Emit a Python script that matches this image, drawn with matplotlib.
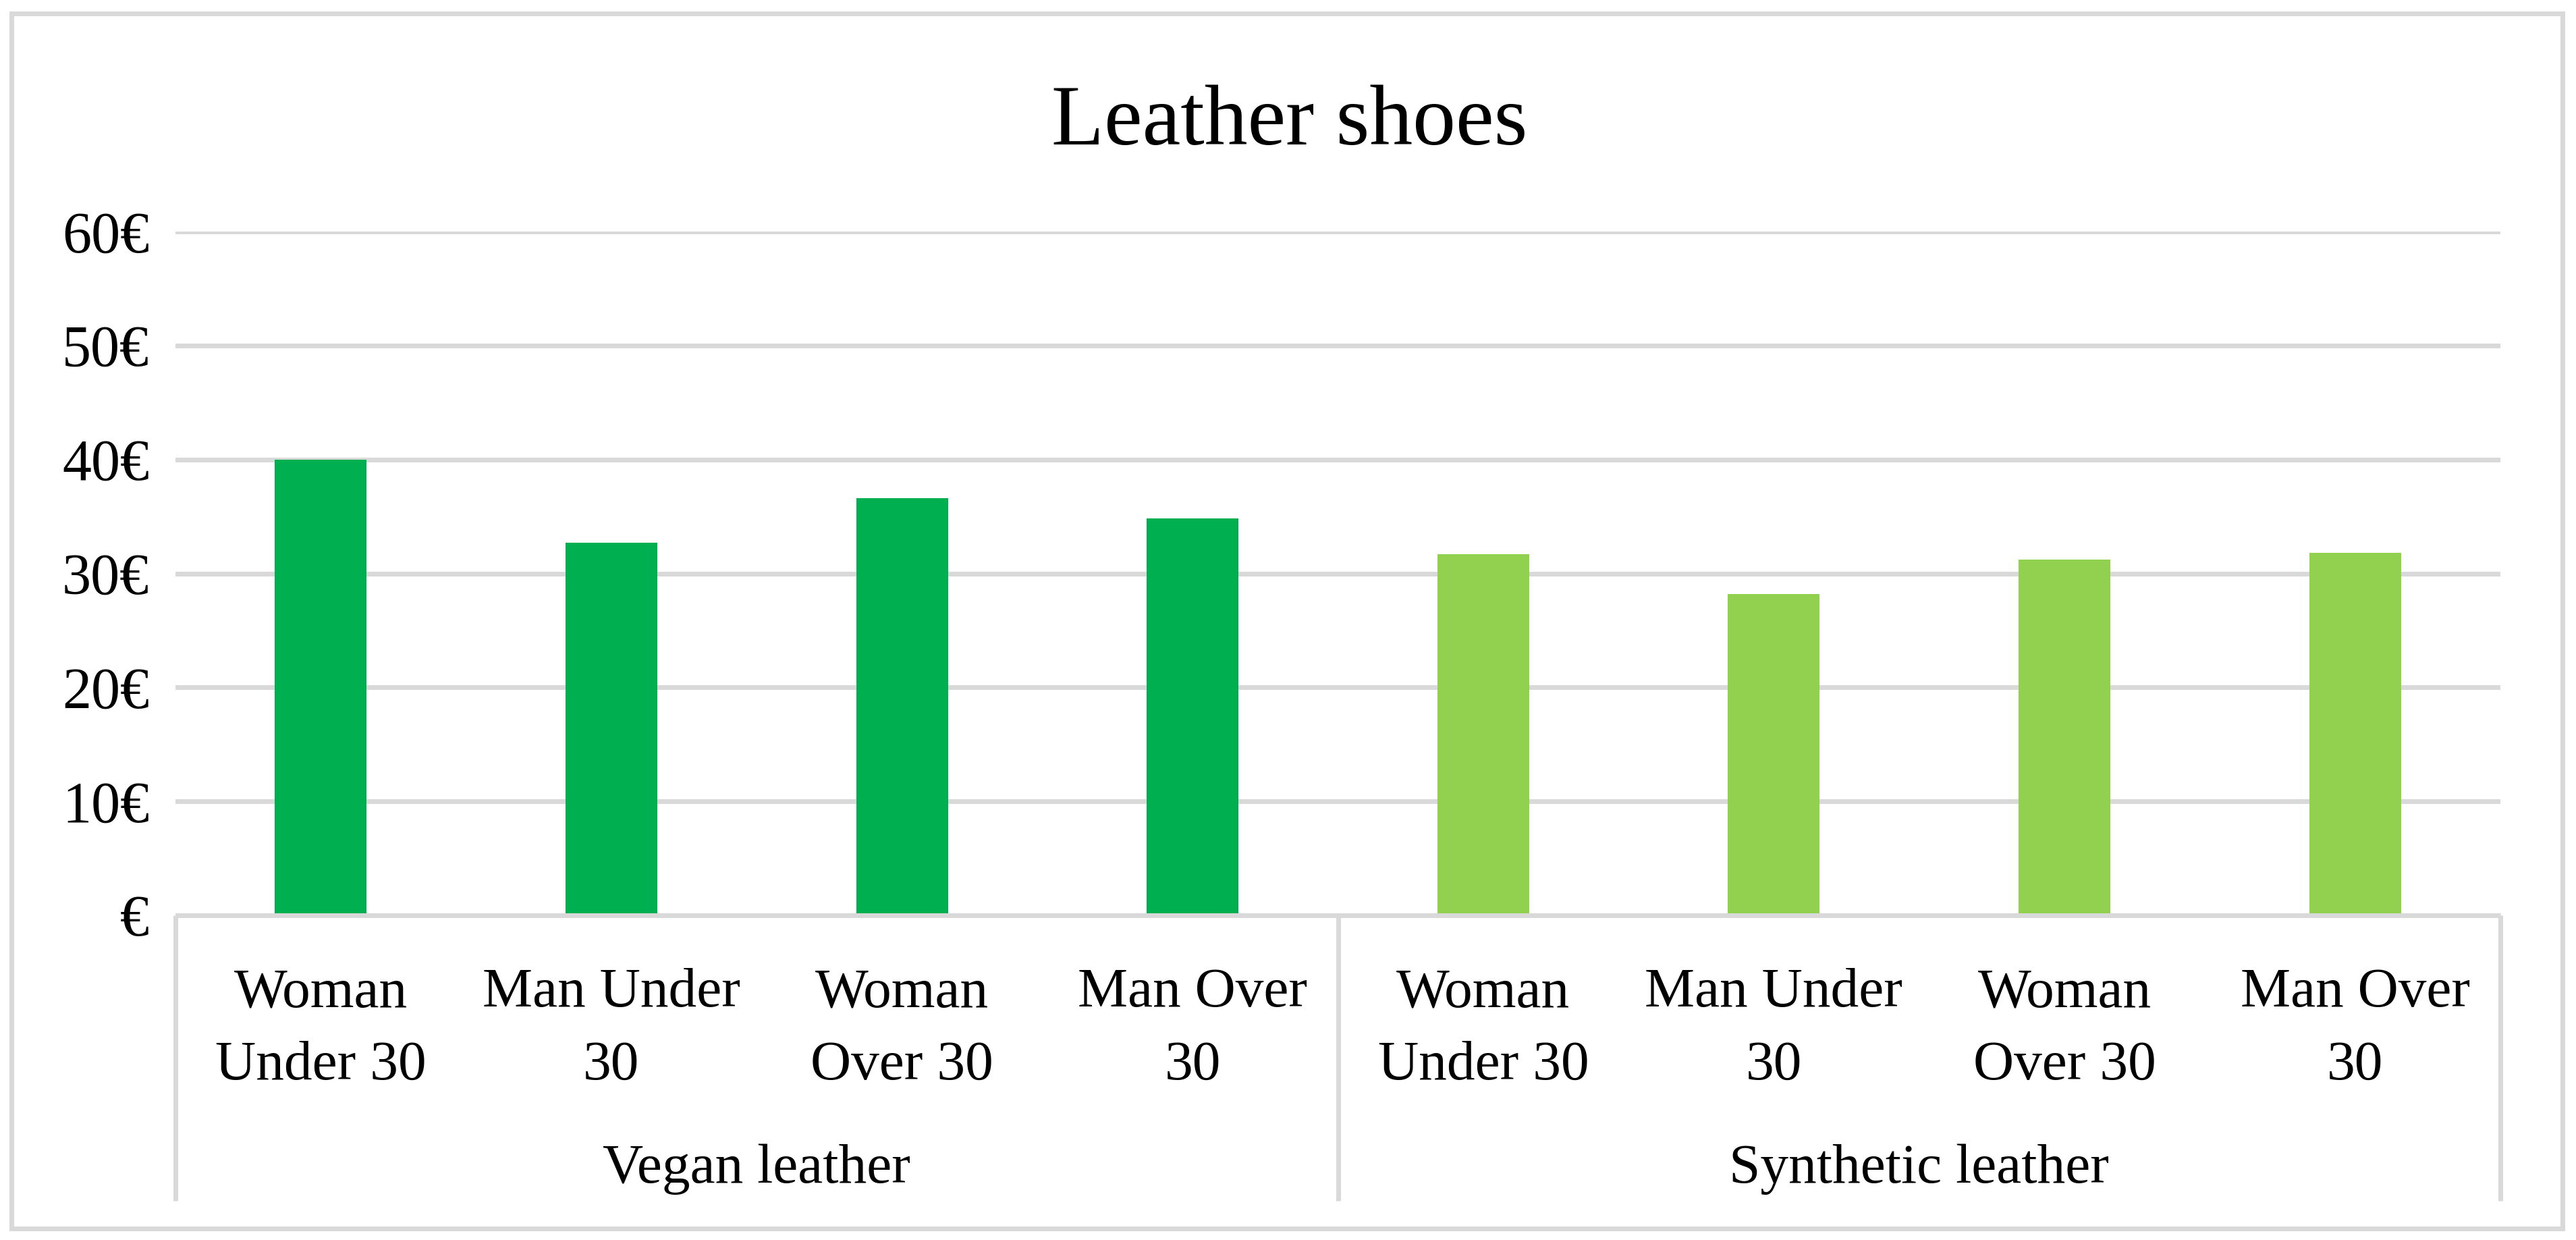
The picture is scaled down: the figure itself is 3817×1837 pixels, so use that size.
import matplotlib
matplotlib.use('agg')
import matplotlib.pyplot as plt
from matplotlib.patches import Rectangle
from matplotlib.ticker import FuncFormatter

# values (EUR)
groups = ['Vegan leather', 'Synthetic leather']
categories = ['Woman\nUnder 30', 'Man Under\n30', 'Woman\nOver 30', 'Man Over\n30']
vegan = [40.0, 32.7, 36.6, 34.8]
synthetic = [31.7, 28.2, 31.2, 31.8]
colors = ['#00B050', '#92D050']

plt.rcParams['font.family'] = ['Liberation Serif', 'DejaVu Serif']

W, H, DPI = 3817, 1837, 200
fig = plt.figure(figsize=(W / DPI, H / DPI), dpi=DPI)
lw = 7 * 72 / DPI  # 7 px lines
grey = '#D9D9D9'

ax = fig.add_axes([260 / W, 1 - 1356 / H, (3705 - 260) / W, (1356 - 343) / H])

n = len(categories)
xs = list(range(2 * n))
ax.bar(xs[:n], vegan, width=0.316, color=colors[0], zorder=3)
ax.bar(xs[n:], synthetic, width=0.316, color=colors[1], zorder=3)

ax.set_xlim(-0.5, 2 * n - 0.5)
ax.set_ylim(0, 60)
ax.set_yticks(range(0, 61, 10))
ax.yaxis.set_major_formatter(FuncFormatter(lambda v, p: '€' if v == 0 else '%d€' % v))
ax.set_xticks(xs)
ax.set_xticklabels(categories * 2, linespacing=1.55)
ax.tick_params(axis='x', length=0, pad=28, labelsize=30)
ax.tick_params(axis='y', length=0, pad=14, labelsize=31)
ax.grid(axis='y', color=grey, lw=lw, zorder=0)
for s in ax.spines.values():
    s.set_visible(False)

# category axis frame below the plot
trans = ax.get_xaxis_transform()
ybot = (1356 - 1779) / (1356 - 343)
for xb in [-0.5, n - 0.5, 2 * n - 0.5]:
    ax.plot([xb, xb], [0, ybot], color=grey, lw=lw, transform=trans,
            clip_on=False, solid_capstyle='butt')
ax.plot([-0.5, 2 * n - 0.5], [0, 0], color=grey, lw=lw, transform=trans,
        clip_on=False, zorder=4, solid_capstyle='butt')

ygrp = (1356 - 1752) / (1356 - 343)
for i, g in enumerate(groups):
    ax.text(i * n + (n - 1) / 2, ygrp, g, transform=trans, ha='center',
            va='baseline', fontsize=30)

fig.text(1911 / W, 1 - 214 / H, 'Leather shoes', ha='center', va='baseline',
         fontsize=46)

# outer chart border
fig.patches.append(Rectangle((17 / W, 1 - 1820 / H), (3797 - 17) / W,
                             (1820 - 20) / H, transform=fig.transFigure,
                             fill=False, edgecolor=grey, lw=lw))

fig.savefig('out.png', dpi=DPI, facecolor='white')
